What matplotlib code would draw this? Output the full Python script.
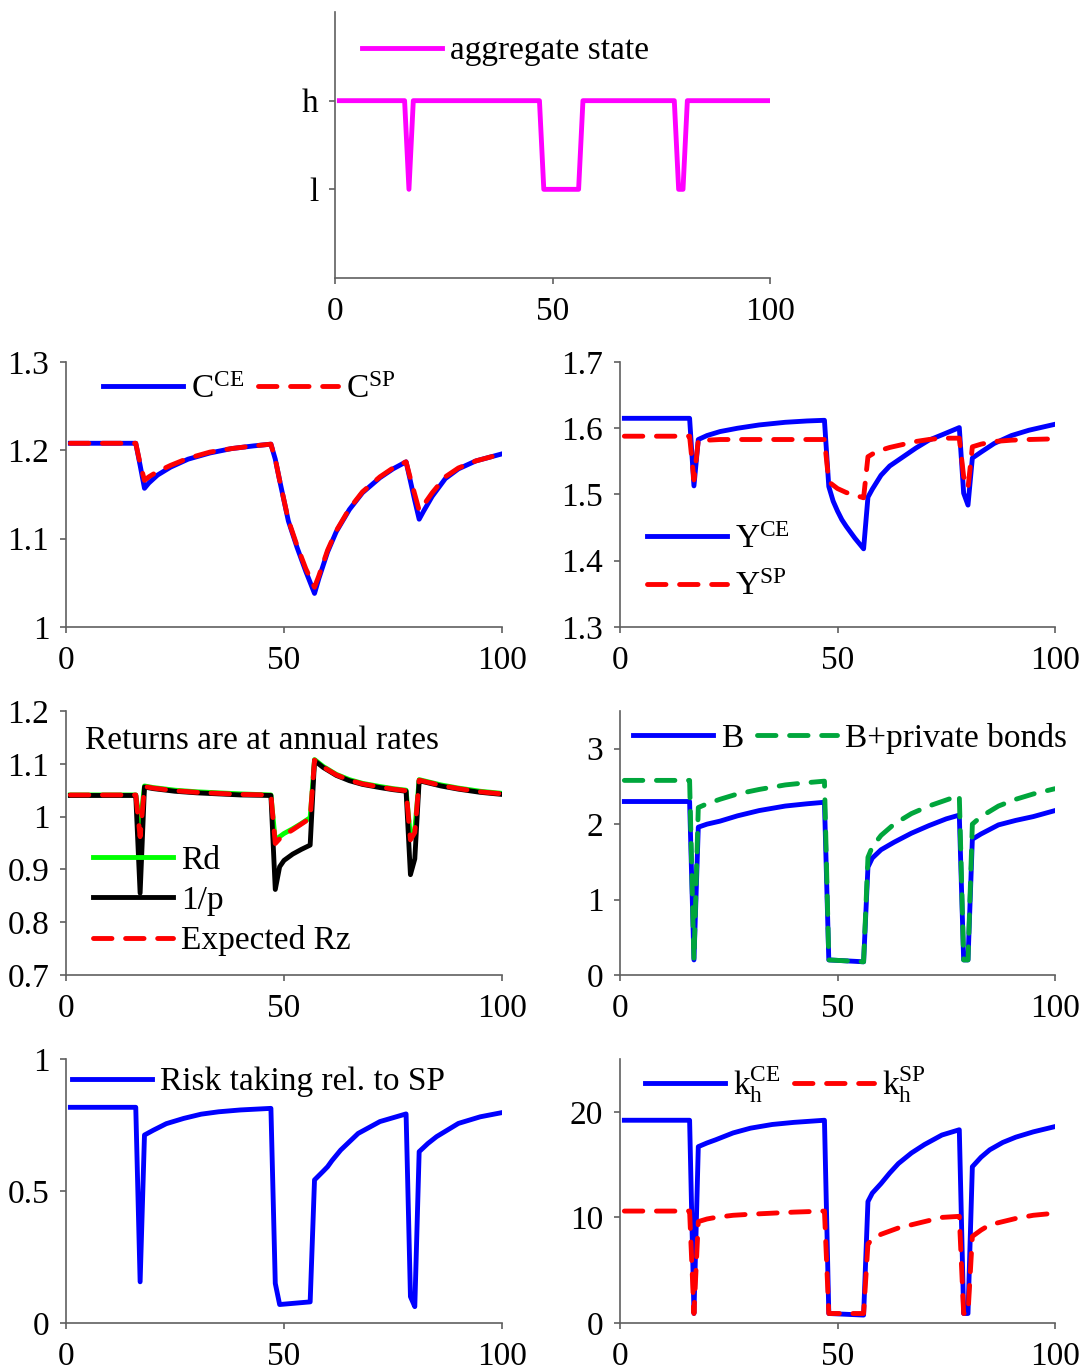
import matplotlib
matplotlib.use('Agg')
import matplotlib.pyplot as plt

plt.rcParams['font.family'] = ['Liberation Serif', 'DejaVu Serif']
plt.rcParams['font.size'] = 24
plt.rcParams['mathtext.fontset'] = 'custom'
plt.rcParams['mathtext.rm'] = 'Liberation Serif'
plt.rcParams['mathtext.it'] = 'Liberation Serif:italic'

# --- данные ---
# агрегатное состояние (h = 2, l = 1)
t_state = [1, 16, 17, 18, 47, 48, 56, 57, 78, 79, 80, 81, 100]
state = [2, 2, 1, 2, 2, 1, 1, 2, 2, 1, 1, 2, 2]

# потребление
t_c = [1, 16, 17, 18, 19, 21, 24, 28, 33, 38, 43, 47, 48, 49, 51, 53, 55, 57,
       58, 60, 62, 65, 68, 72, 75, 78, 79, 80, 81, 82, 84, 87, 90, 94, 100]
c_ce = [1.208, 1.208, 1.183, 1.157, 1.163, 1.172, 1.181, 1.19, 1.197, 1.202, 1.205, 1.207,
        1.19, 1.166, 1.12, 1.09, 1.063, 1.038,
        1.055, 1.085, 1.108, 1.133, 1.152, 1.169, 1.179, 1.187,
        1.165, 1.143, 1.122,
        1.131, 1.148, 1.168, 1.179, 1.188, 1.196]
c_sp = [1.208, 1.208, 1.185, 1.166, 1.17, 1.176, 1.183, 1.191, 1.198, 1.202, 1.205, 1.207,
        1.19, 1.166, 1.121, 1.092, 1.066, 1.045,
        1.058, 1.087, 1.109, 1.134, 1.153, 1.17, 1.18, 1.187,
        1.168, 1.15, 1.132,
        1.138, 1.152, 1.17, 1.18, 1.188, 1.196]

# выпуск
t_y = [1, 16, 17, 18, 20, 23, 27, 32, 38, 43, 47,
       48, 49, 50, 51, 52, 53, 54, 55, 56,
       57, 58, 60, 62, 64, 66, 68, 71, 74, 78,
       79, 80, 81, 83, 86, 90, 94, 100]
y_ce = [1.615, 1.615, 1.513, 1.583, 1.589, 1.595, 1.6, 1.605, 1.609, 1.611, 1.612,
        1.512, 1.49, 1.475, 1.462, 1.452, 1.443, 1.434, 1.426, 1.418,
        1.496, 1.508, 1.529, 1.543, 1.552, 1.561, 1.57, 1.582, 1.59, 1.601,
        1.502, 1.484, 1.555, 1.564, 1.577, 1.589, 1.597, 1.606]
y_sp = [1.588, 1.588, 1.522, 1.582, 1.582, 1.583, 1.583, 1.583, 1.583, 1.583, 1.583,
        1.519, 1.514, 1.509, 1.506, 1.503, 1.501, 1.499, 1.497, 1.495,
        1.557, 1.561, 1.567, 1.571, 1.574, 1.577, 1.58, 1.583, 1.585, 1.585,
        1.527, 1.51, 1.572, 1.576, 1.58, 1.582, 1.583, 1.584]

# доходности
t_r = [1, 16, 17, 18, 20, 25, 30, 35, 40, 47,
       48, 49, 50, 52, 54, 56,
       57, 59, 62, 65, 68, 72, 75, 78,
       79, 80, 81, 83, 86, 90, 95, 100]
rd = [1.041, 1.041, 0.985, 1.058, 1.055, 1.05, 1.047, 1.045, 1.043, 1.041,
      0.954, 0.962, 0.968, 0.977, 0.987, 0.998,
      1.108, 1.095, 1.08, 1.07, 1.063, 1.057, 1.053, 1.05,
      0.962, 0.975, 1.07, 1.066, 1.06, 1.054, 1.048, 1.044]
inv_p = [1.04, 1.04, 0.855, 1.056, 1.053, 1.048, 1.045, 1.043, 1.041, 1.04,
         0.862, 0.905, 0.917, 0.929, 0.938, 0.946,
         1.106, 1.093, 1.078, 1.068, 1.061, 1.055, 1.051, 1.048,
         0.89, 0.92, 1.068, 1.064, 1.058, 1.052, 1.046, 1.042]
rz = [1.041, 1.041, 0.962, 1.057, 1.054, 1.049, 1.046, 1.044, 1.042, 1.041,
      0.949, 0.958, 0.965, 0.975, 0.986, 0.997,
      1.107, 1.094, 1.079, 1.069, 1.062, 1.056, 1.052, 1.049,
      0.956, 0.97, 1.069, 1.065, 1.059, 1.053, 1.047, 1.043]

# облигации
t_b = [1, 16, 17, 18, 20, 23, 27, 32, 38, 43, 47,
       48, 56,
       57, 58, 60, 63, 67, 71, 75, 78,
       79, 80, 81, 83, 87, 91, 95, 100]
b = [2.3, 2.3, 0.2, 1.96, 2.0, 2.04, 2.11, 2.18, 2.24, 2.27, 2.29,
     0.2, 0.175,
     1.43, 1.55, 1.66, 1.76, 1.88, 1.98, 2.07, 2.12,
     0.2, 0.2, 1.8, 1.87, 1.99, 2.05, 2.1, 2.18]
b_priv = [2.58, 2.58, 0.2, 2.22, 2.27, 2.33, 2.4, 2.46, 2.52, 2.55, 2.57,
          0.2, 0.175,
          1.56, 1.7, 1.85, 2.0, 2.14, 2.24, 2.32, 2.38,
          0.2, 0.2, 2.0, 2.1, 2.24, 2.33, 2.4, 2.47]

# склонность к риску
t_risk = [1, 16, 17, 18, 20, 23, 27, 31, 35, 40, 47,
          48, 49, 56,
          57, 59, 60, 61, 63, 67, 72, 78,
          79, 80, 81, 83, 85, 90, 95, 100]
risk = [0.817, 0.817, 0.156, 0.712, 0.73, 0.755, 0.775, 0.791, 0.8, 0.807, 0.813,
        0.15, 0.07, 0.08,
        0.542, 0.575, 0.592, 0.615, 0.655, 0.718, 0.763, 0.792,
        0.1, 0.062, 0.649, 0.68, 0.706, 0.756, 0.781, 0.797]

# капитал
t_k = [1, 16, 17, 18, 20, 22, 26, 30, 35, 40, 47,
       48, 56,
       57, 58, 60, 62, 64, 67, 70, 74, 78,
       79, 80, 81, 83, 85, 88, 91, 95, 100]
k_ce = [19.2, 19.2, 0.9, 16.7, 17.05, 17.35, 18.0, 18.45, 18.8, 19.0, 19.2,
        0.9, 0.75,
        11.5, 12.3, 13.2, 14.2, 15.1, 16.1, 16.9, 17.8, 18.3,
        0.9, 0.9, 14.8, 15.7, 16.4, 17.1, 17.6, 18.1, 18.6]
k_sp = [10.6, 10.6, 0.9, 9.6, 9.85, 10.0, 10.2, 10.3, 10.4, 10.5, 10.6,
        0.9, 0.9,
        7.5, 7.9, 8.4, 8.7, 9.0, 9.3, 9.6, 10.0, 10.1,
        0.9, 0.9, 8.2, 8.8, 9.3, 9.6, 9.9, 10.2, 10.4]

BLUE = '#0000FF'
RED = '#FF0000'
LW = 3.5
DASH = (3.8, 2.8)


def style(ax, ylim, yticks, yticklabels=None):
    ax.set_xlim(0, 100)
    ax.set_ylim(*ylim)
    ax.set_xticks([0, 50, 100])
    ax.set_yticks(yticks)
    if yticklabels is not None:
        ax.set_yticklabels(yticklabels)
    for s in ['top', 'right']:
        ax.spines[s].set_visible(False)
    for s in ['left', 'bottom']:
        ax.spines[s].set_color('#606060')
        ax.spines[s].set_linewidth(1.2)
    ax.tick_params(axis='both', direction='out', length=4, width=1.2, color='#606060')
    ax.tick_params(axis='x', pad=9)
    ax.tick_params(axis='y', pad=8)


def dashed(ax, x, y, color, label):
    ax.plot(x, y, color=color, lw=LW, ls='--', dashes=DASH,
            dash_capstyle='round', label=label)


def legend(ax, anchor, ncol=1, spacing=0.3):
    ax.legend(loc='upper left', bbox_to_anchor=anchor, ncol=ncol, frameon=False,
              borderaxespad=0, borderpad=0, handlelength=2.4, handletextpad=0.25,
              columnspacing=0.4, labelspacing=spacing)


fig = plt.figure(figsize=(10.81, 13.71), dpi=100)

W, H = 1081, 1371


def axes_px(left, top, right, bottom):
    return fig.add_axes([left / W, 1 - bottom / H, (right - left) / W, (bottom - top) / H])


# верхний график - состояние
ax0 = axes_px(335, 12, 770, 278)
ax0.plot(t_state, state, color='#FF00FF', lw=LW, label='aggregate state')
style(ax0, (0, 3), [1, 2], ['l', 'h'])
legend(ax0, (0.062, 0.91))

rows = [(362, 627), (711, 975), (1059, 1323)]
cols = [(66, 502), (620, 1055)]

# потребление
ax1 = axes_px(cols[0][0], rows[0][0], cols[0][1], rows[0][1])
ax1.plot(t_c, c_ce, color=BLUE, lw=LW, label=r'C$^{\rm CE}$')
dashed(ax1, t_c, c_sp, RED, r'C$^{\rm SP}$')
style(ax1, (1, 1.3), [1, 1.1, 1.2, 1.3], ['1', '1.1', '1.2', '1.3'])
legend(ax1, (0.085, 0.953), ncol=2)

# выпуск
ax2 = axes_px(cols[1][0], rows[0][0], cols[1][1], rows[0][1])
ax2.plot(t_y, y_ce, color=BLUE, lw=LW, label=r'Y$^{\rm CE}$')
dashed(ax2, t_y, y_sp, RED, r'Y$^{\rm SP}$')
style(ax2, (1.3, 1.7), [1.3, 1.4, 1.5, 1.6, 1.7])
legend(ax2, (0.062, 0.388), spacing=0.51)

# доходности
ax3 = axes_px(cols[0][0], rows[1][0], cols[0][1], rows[1][1])
ax3.plot(t_r, rd, color='#00FF00', lw=LW, label='Rd')
ax3.plot(t_r, inv_p, color='black', lw=LW, label='1/p')
dashed(ax3, t_r, rz, RED, 'Expected Rz')
style(ax3, (0.7, 1.2), [0.7, 0.8, 0.9, 1, 1.1, 1.2], ['0.7', '0.8', '0.9', '1', '1.1', '1.2'])
ax3.text(0.044, 0.887, 'Returns are at annual rates', transform=ax3.transAxes,
         ha='left', va='center')
legend(ax3, (0.062, 0.49), spacing=0.28)

# облигации
ax4 = axes_px(cols[1][0], rows[1][0], cols[1][1], rows[1][1])
ax4.plot(t_b, b, color=BLUE, lw=LW, label='B')
dashed(ax4, t_b, b_priv, '#00A63C', 'B+private bonds')
style(ax4, (0, 3.5), [0, 1, 2, 3])
legend(ax4, (0.03, 0.955), ncol=2)

# риск
ax5 = axes_px(cols[0][0], rows[2][0], cols[0][1], rows[2][1])
ax5.plot(t_risk, risk, color=BLUE, lw=LW, label='Risk taking rel. to SP')
style(ax5, (0, 1), [0, 0.5, 1], ['0', '0.5', '1'])
legend(ax5, (0.014, 0.97))

# капитал
ax6 = axes_px(cols[1][0], rows[2][0], cols[1][1], rows[2][1])
ax6.plot(t_k, k_ce, color=BLUE, lw=LW, label=r'k$_{\rm h}^{\rm CE}$')
dashed(ax6, t_k, k_sp, RED, r'k$_{\rm h}^{\rm SP}$')
style(ax6, (0, 25), [0, 10, 20])
legend(ax6, (0.057, 0.98), ncol=2)

fig.savefig('out.png', dpi=100)
